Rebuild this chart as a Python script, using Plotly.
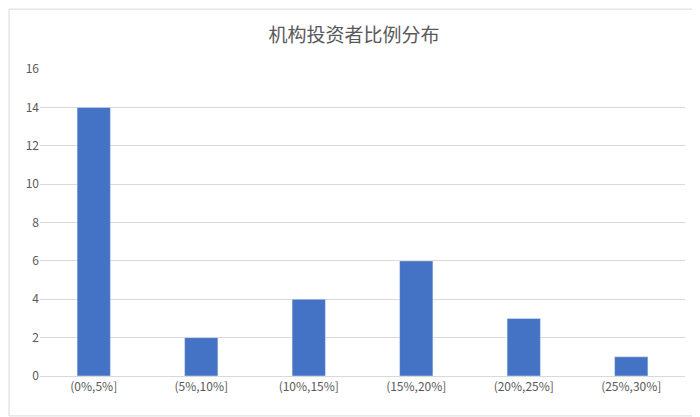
import plotly.graph_objects as go

categories = ["(0%,5%]", "(5%,10%]", "(10%,15%]", "(15%,20%]", "(20%,25%]", "(25%,30%]"]
values = [14, 2, 4, 6, 3, 1]
y_ticks = [0, 2, 4, 6, 8, 10, 12, 14, 16]

fig = go.Figure(go.Bar(x=categories, y=values, marker_color="#4472C4"))
fig.update_layout(
    width=692, height=409,
    margin=dict(l=32, r=15, t=61, b=41),
    paper_bgcolor="white", plot_bgcolor="white",
    bargap=0.69,
    title=dict(text="机构投资者比例分布", x=0.5, xanchor="center", y=0.934, yanchor="middle",
               font=dict(family="Noto Sans CJK SC", size=19, color="#595959")),
    font=dict(family="Noto Sans CJK SC", size=12, color="#595959"),
    xaxis=dict(showline=True, linecolor="#D9D9D9", ticks="", showgrid=False),
    yaxis=dict(range=[0, 16], tickvals=y_ticks, showgrid=True, gridcolor="#D9D9D9",
               zeroline=False, ticks="", showline=False),
    shapes=[dict(type="rect", xref="paper", yref="paper", x0=-0.048, x1=1.021, y0=-0.13, y1=1.195,
                 line=dict(color="#D9D9D9", width=1))],
    showlegend=False,
)
fig.write_html("out.html")
